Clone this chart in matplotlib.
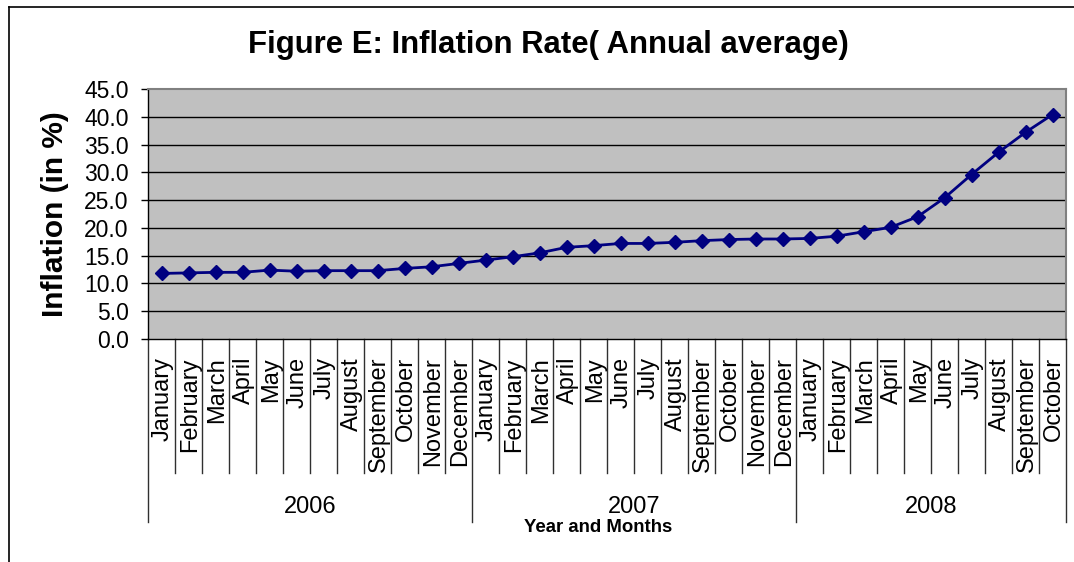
import matplotlib
matplotlib.use("Agg")
import matplotlib.pyplot as plt
from matplotlib.transforms import blended_transform_factory
from matplotlib.lines import Line2D

# ---- data ----
years = ["2006", "2007", "2008"]
months_2006 = ["January", "February", "March", "April", "May", "June", "July",
               "August", "September", "October", "November", "December"]
months_2007 = list(months_2006)
months_2008 = months_2006[:10]
infl_2006 = [11.8, 11.9, 12.0, 12.0, 12.4, 12.2, 12.3, 12.3, 12.3, 12.7, 13.0, 13.6]
infl_2007 = [14.2, 14.8, 15.5, 16.5, 16.8, 17.2, 17.2, 17.4, 17.7, 17.9, 18.0, 18.0]
infl_2008 = [18.1, 18.5, 19.3, 20.1, 22.0, 25.4, 29.6, 33.6, 37.2, 40.4]
y_ticks = [0, 5, 10, 15, 20, 25, 30, 35, 40, 45]

month_labels = months_2006 + months_2007 + months_2008
values = infl_2006 + infl_2007 + infl_2008
group_sizes = [len(months_2006), len(months_2007), len(months_2008)]

plt.rcParams['font.family'] = ['Liberation Sans', 'DejaVu Sans']

W, H = 1074, 562
fig = plt.figure(figsize=(W / 100, H / 100), dpi=100)
fig.patch.set_facecolor('white')

def fy(px):
    return 1 - px / H

def fx(px):
    return px / W

# outer chart border (top & left visible)
fig.add_artist(Line2D([fx(9), 1.0], [fy(7), fy(7)], color='black', lw=1.2,
                      transform=fig.transFigure))
fig.add_artist(Line2D([fx(9), fx(9)], [fy(7), 0.0], color='black', lw=1.2,
                      transform=fig.transFigure))

L, R, T, B = 148, 1066, 89, 339
ax = fig.add_axes([fx(L), fy(B), (R - L) / W, (B - T) / H])
ax.set_facecolor('#C0C0C0')

n = len(values)
x = list(range(n))
ax.plot(x, values, color='#000080', lw=2, marker='D', markersize=7.5,
        markerfacecolor='#000080', markeredgecolor='#000080', zorder=3)

ax.set_xlim(-0.5, n - 0.5)
ax.set_ylim(0, 45)
ax.set_yticks(y_ticks)
ax.set_yticklabels([f"{v:.1f}" for v in y_ticks], fontsize=16.5)
ax.tick_params(axis='y', direction='out', length=5, width=1, pad=9, color='black')
ax.set_xticks([])
for v in y_ticks[1:-1]:
    ax.axhline(v, color='black', lw=1, zorder=1)

for side in ['top', 'right']:
    ax.spines[side].set_color('#808080')
    ax.spines[side].set_linewidth(1.5)
for side in ['left', 'bottom']:
    ax.spines[side].set_color('black')
    ax.spines[side].set_linewidth(1)

# category separators and labels
tr = blended_transform_factory(ax.transData, fig.transFigure)
boundaries_year = [-0.5]
acc = -0.5
for g in group_sizes:
    acc += g
    boundaries_year.append(acc)
for k in range(n + 1):
    b = k - 0.5
    if b in boundaries_year:
        ax.add_line(Line2D([b, b], [fy(B), fy(522)], color='#303030', lw=1,
                           transform=tr, clip_on=False))
    else:
        ax.add_line(Line2D([b, b], [fy(B), fy(473)], color='#303030', lw=1,
                           transform=tr, clip_on=False))
for i, lab in enumerate(month_labels):
    ax.text(i + 0.05, fy(357), lab, rotation=90, ha='center', va='top',
            fontsize=17, transform=tr)
start = 0
for yr, g in zip(years, group_sizes):
    ax.text(start + g / 2 - 0.5, fy(507), yr, ha='center', va='center',
            fontsize=17, transform=tr)
    start += g

# titles
fig.text(fx(548), fy(45), "Figure E: Inflation Rate( Annual average)",
         ha='center', va='center', fontsize=22.4, fontweight='bold')
fig.text(fx(55), fy(214), "Inflation (in %)", rotation=90, ha='center',
         va='center', fontsize=21.5, fontweight='bold')
fig.text(fx(598), fy(527), "Year and Months", ha='center', va='center',
         fontsize=13.4, fontweight='bold')

fig.savefig("out.png", dpi=100)
